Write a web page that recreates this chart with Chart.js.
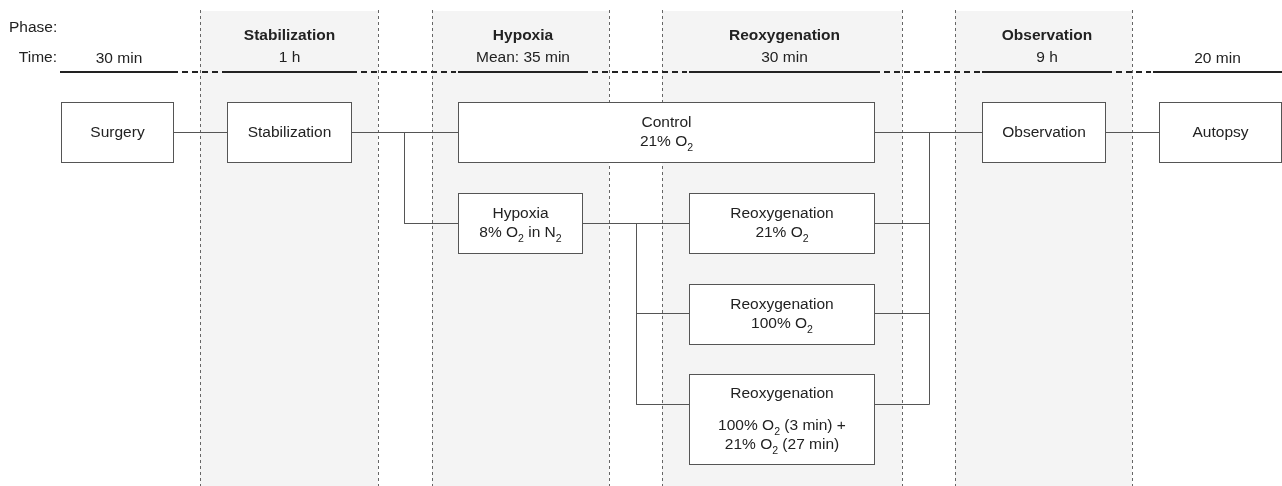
<!DOCTYPE html>
<html>
<head>
<meta charset="utf-8">
<script src="https://cdn.jsdelivr.net/npm/chart.js@4.4.1/dist/chart.umd.min.js"></script>
<style>
  html, body { margin: 0; padding: 0; background: #fff; }
  #wrap { width: 1282px; height: 486px; position: relative; }
</style>
</head>
<body>
<div id="wrap"><canvas id="flow"></canvas></div>
<script>
// ---- data ----
const phaseNames = ["", "Stabilization", "Hypoxia", "Reoxygenation", "Observation", ""];
const phaseTimes = ["30 min", "1 h", "Mean: 35 min", "30 min", "9 h", "20 min"];
const shadedPhases = [false, true, true, true, true, false];

// "_2" marks a subscript character
const stepLabels = [
  ["Surgery"],
  ["Stabilization"],
  ["Control", "21% O_2"],
  ["Hypoxia", "8% O_2 in N_2"],
  ["Reoxygenation", "21% O_2"],
  ["Reoxygenation", "100% O_2"],
  ["Reoxygenation", "", "100% O_2 (3 min) +", "21% O_2 (27 min)"],
  ["Observation"],
  ["Autopsy"],
];

// which step flows into which
const links = [[0, 1], [1, 2], [1, 3], [3, 4], [3, 5], [3, 6], [2, 7], [4, 7], [5, 7], [6, 7], [7, 8]];

// ---- layout (diagram units = px of the original figure) ----
const phaseCols = [[0, 200], [200, 378], [432, 609], [662, 902], [955, 1132], [1132, 1282]];
const timeSpans = [[60, 178], [222, 357], [458, 588], [689, 880], [982, 1112], [1153, 1282]];
const stepBoxes = [
  [61, 173, 102, 162],
  [227, 351, 102, 162],
  [458, 874, 102, 162],
  [458, 582, 193, 253],
  [689, 874, 193, 253],
  [689, 874, 284, 344],
  [689, 874, 374, 464],
  [982, 1105, 102, 162],
  [1159, 1281, 102, 162],
];
const stepPort = [132, 132, 132, 223, 223, 313, 404, 132, 132];
const linkBus = [null, null, 404, null, 636, 636, null, 929, 929, 929, null];
const TIME_Y = 72;

const FONT = '"Liberation Sans", Arial, Helvetica, sans-serif';
const SIZE = 15.5;
const INK = "#222";
const LINE = "#555";

// ---- build datasets ----
const datasets = [];
const h = (v) => Math.round(v) + 0.5;

// connectors
links.forEach(([a, b], i) => {
  const A = stepBoxes[a], B = stepBoxes[b];
  const ya = h(stepPort[a]), yb = h(stepPort[b]);
  let pts;
  if (linkBus[i] == null) {
    pts = [{ x: A[1], y: ya }, { x: B[0], y: yb }];
  } else {
    const bx = h(linkBus[i]);
    pts = [{ x: A[1], y: ya }, { x: bx, y: ya }, { x: bx, y: yb }, { x: B[0], y: yb }];
  }
  datasets.push({ data: pts, borderColor: LINE, borderWidth: 1 });
});

// timeline: solid under each phase, dashed between
timeSpans.forEach((s, i) => {
  datasets.push({ data: [{ x: s[0], y: TIME_Y }, { x: s[1], y: TIME_Y }], borderColor: "#222", borderWidth: 2 });
  if (i < timeSpans.length - 1) {
    datasets.push({
      data: [{ x: s[1] + 4, y: TIME_Y }, { x: timeSpans[i + 1][0] - 2, y: TIME_Y }],
      borderColor: "#222", borderWidth: 2, borderDash: [6, 4],
    });
  }
});

// dashed phase borders
phaseCols.forEach((c, i) => {
  if (!shadedPhases[i]) return;
  c.forEach((x) => {
    datasets.push({
      data: [{ x: h(x), y: 10 }, { x: h(x), y: 486 }],
      borderColor: "#666", borderWidth: 1, borderDash: [3, 3],
    });
  });
});

// ---- drawing helpers ----
function fontFor(size, bold, sub) {
  return (bold ? "bold " : "") + (sub ? size * 0.68 : size) + "px " + FONT;
}

function drawRich(ctx, text, cx, cy, size, bold, align) {
  const tokens = text.split(/(_\w)/).filter((t) => t !== "").map((t) =>
    t[0] === "_" ? { s: t.slice(1), sub: true } : { s: t, sub: false });
  let w = 0;
  tokens.forEach((t) => { ctx.font = fontFor(size, bold, t.sub); w += ctx.measureText(t.s).width; });
  let x = align === "right" ? cx - w : align === "left" ? cx : cx - w / 2;
  ctx.fillStyle = INK;
  ctx.textBaseline = "middle";
  ctx.textAlign = "left";
  tokens.forEach((t) => {
    ctx.font = fontFor(size, bold, t.sub);
    ctx.fillText(t.s, x, t.sub ? cy + size * 0.38 : cy);
    x += ctx.measureText(t.s).width;
  });
}

const flowPlugin = {
  id: "flow",
  beforeDatasetsDraw(chart) {
    const { ctx, scales: { x, y } } = chart;
    ctx.save();
    ctx.fillStyle = "#f4f4f4";
    phaseCols.forEach((c, i) => {
      if (!shadedPhases[i]) return;
      const x0 = x.getPixelForValue(c[0]), x1 = x.getPixelForValue(c[1]);
      const y0 = y.getPixelForValue(11), y1 = y.getPixelForValue(486);
      ctx.fillRect(x0, y0, x1 - x0, y1 - y0);
    });
    ctx.restore();
  },
  afterDatasetsDraw(chart) {
    const { ctx, scales: { x, y } } = chart;
    ctx.save();
    // header texts
    drawRich(ctx, "Phase:", x.getPixelForValue(9), y.getPixelForValue(28), SIZE, false, "left");
    drawRich(ctx, "Time:", x.getPixelForValue(57), y.getPixelForValue(58), SIZE, false, "right");
    phaseCols.forEach((c, i) => {
      const cx = x.getPixelForValue((timeSpans[i][0] + timeSpans[i][1]) / 2);
      if (phaseNames[i]) drawRich(ctx, phaseNames[i], cx, y.getPixelForValue(36), SIZE, true);
      drawRich(ctx, phaseTimes[i], cx, y.getPixelForValue(phaseNames[i] ? 58 : 59), SIZE, false);
    });
    // boxes
    stepBoxes.forEach((b, i) => {
      const x0 = h(x.getPixelForValue(b[0])), x1 = h(x.getPixelForValue(b[1]));
      const y0 = h(y.getPixelForValue(b[2])), y1 = h(y.getPixelForValue(b[3]));
      ctx.fillStyle = "#fff";
      ctx.fillRect(x0, y0, x1 - x0, y1 - y0);
      ctx.strokeStyle = LINE;
      ctx.lineWidth = 1;
      ctx.strokeRect(x0, y0, x1 - x0, y1 - y0);
      const lines = stepLabels[i];
      const offs = [0];
      for (let k = 1; k < lines.length; k++) {
        offs.push(offs[k - 1] + (lines[k] === "" || lines[k - 1] === "" ? 16 : 19));
      }
      const span = offs[offs.length - 1];
      const cy = (y0 + y1) / 2 - span / 2;
      const cx = (x0 + x1) / 2;
      lines.forEach((t, k) => { if (t) drawRich(ctx, t, cx, cy + offs[k], SIZE, false); });
    });
    ctx.restore();
  },
};

new Chart(document.getElementById("flow").getContext("2d"), {
  type: "scatter",
  data: { datasets },
  options: {
    responsive: true,
    maintainAspectRatio: false,
    animation: false,
    showLine: true,
    layout: { padding: 0 },
    elements: { point: { radius: 0, hoverRadius: 0 }, line: { tension: 0 } },
    scales: {
      x: { type: "linear", min: 0, max: 1282, display: false },
      y: { type: "linear", min: 0, max: 486, reverse: true, display: false },
    },
    plugins: { legend: { display: false }, tooltip: { enabled: false } },
    events: [],
  },
  plugins: [flowPlugin],
});
</script>
</body>
</html>
